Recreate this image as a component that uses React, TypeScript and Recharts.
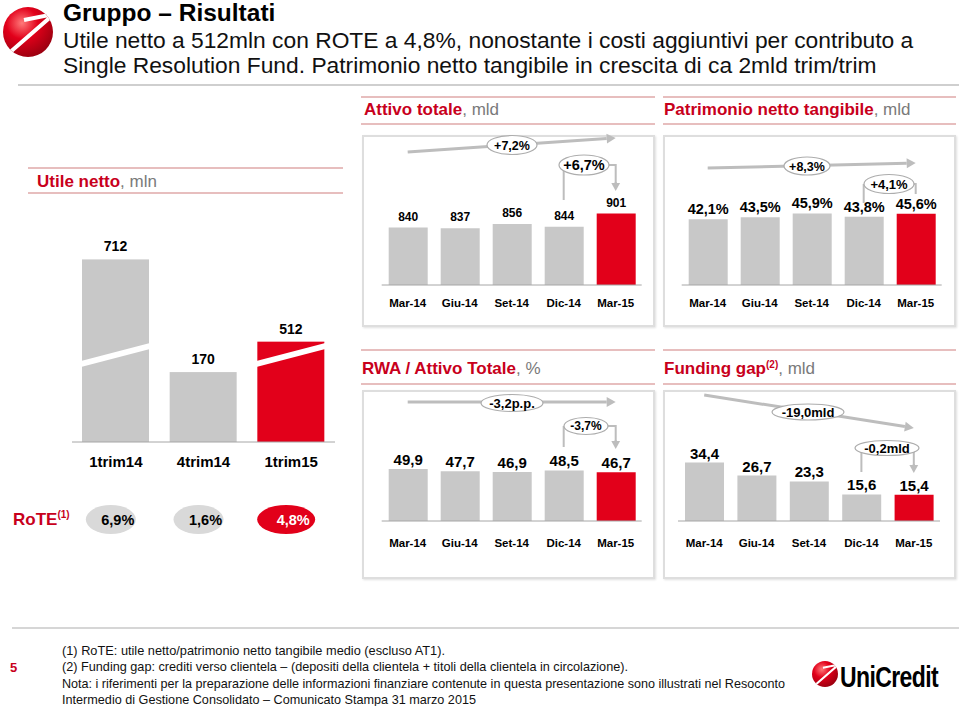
import React from 'react';
import { BarChart, Bar, XAxis, YAxis, Cell, LabelList } from 'recharts';

// quarter-end dates used by the four small charts
const MONTHS = ['Mar-14', 'Giu-14', 'Set-14', 'Dic-14', 'Mar-15'];
const ATTIVO = [840, 837, 856, 844, 901]; // mld
const PATRIMONIO = [42.1, 43.5, 45.9, 43.8, 45.6]; // mld
const RWA_ATTIVO = [49.9, 47.7, 46.9, 48.5, 46.7]; // %
const FUNDING_GAP = [34.4, 26.7, 23.3, 15.6, 15.4]; // mld

const TRIMESTRI = ['1trim14', '4trim14', '1trim15'];
const UTILE = [712, 170, 512]; // mln
const ROTE = [6.9, 1.6, 4.8]; // %

const ATTIVO_DELTA = ['+7,2%', '+6,7%'];
const PATRIMONIO_DELTA = ['+8,3%', '+4,1%'];
const RWA_DELTA = ['-3,2p.p.', '-3,7%'];
const FUNDING_DELTA = ['-19,0mld', '-0,2mld'];

const FOOTNOTES = [
  '(1) RoTE: utile netto/patrimonio netto tangibile medio (escluso AT1).',
  '(2) Funding gap: crediti verso clientela – (depositi della clientela + titoli della clientela in circolazione).',
  'Nota: i riferimenti per la preparazione delle informazioni finanziare contenute in questa presentazione sono illustrati nel Resoconto',
  'Intermedio di Gestione Consolidato – Comunicato Stampa 31 marzo 2015',
];
const FOOTNOTE_WIDTHS = [383, 566, 723, 414];

// broken axis on the utile chart: bars above BREAK_FROM lose BREAK_GAP units
const BREAK_FROM = 300;
const BREAK_GAP = 268;

const GREY = '#c8c8c8';
const RED = '#e2001a';
const HEAD_RED = '#c8001c';
const HEAD_GREY = '#7a7a7a';
const RULE = '#dfa9a9';
const ARROW = '#bdbdbd';
const FONT = '"Liberation Sans", Arial, sans-serif';
const XH = 30;

interface Frame { x: number; y: number; w: number; h: number; L: number; R: number; T: number; B: number }

const marginOf = (f: Frame) => ({
  top: f.T - f.y,
  bottom: f.y + f.h - f.B - XH,
  left: f.L - f.x,
  right: f.x + f.w - f.R,
});

const centers = (f: Frame, n: number) =>
  Array.from({ length: n }, (_, i) => f.L + ((f.R - f.L) * (i + 0.5)) / n);

const it = (v: number) => v.toFixed(1).replace('.', ',');

const F_ATTIVO: Frame = { x: 362, y: 135, w: 293, h: 192, L: 381.7, R: 641.7, T: 200, B: 285 };
const F_PATR: Frame = { x: 663, y: 135, w: 293, h: 192, L: 681.7, R: 941.7, T: 207, B: 285 };
const F_RWA: Frame = { x: 362, y: 390, w: 293, h: 189, L: 381.7, R: 641.7, T: 448, B: 521 };
const F_FUND: Frame = { x: 663, y: 390, w: 293, h: 189, L: 678, R: 940, T: 453, B: 521 };
const F_UTILE: Frame = { x: 20, y: 200, w: 330, h: 280, L: 72, R: 335, T: 259, B: 442 };

function MonthBars({ f, values, domain, labelSize, labelOffset, tickMargin, fmt }: {
  f: Frame; values: number[]; domain: [number, number]; labelSize: number;
  labelOffset: number; tickMargin: number; fmt: (v: number) => string;
}) {
  const data = MONTHS.map((m, i) => ({ cat: m, value: values[i] }));
  return (
    <div style={{ position: 'absolute', left: f.x, top: f.y }}>
      <BarChart width={f.w} height={f.h} data={data} margin={marginOf(f)}>
        <XAxis dataKey="cat" height={XH} interval={0} tickLine={false} tickSize={0} tickMargin={tickMargin}
          axisLine={{ stroke: '#a6a6a6' }}
          tick={{ fontSize: 11.5, fontWeight: 700, fill: '#000', fontFamily: FONT }} />
        <YAxis hide domain={domain} />
        <Bar dataKey="value" barSize={39} isAnimationActive={false}>
          {data.map((d, i) => <Cell key={d.cat} fill={i === data.length - 1 ? RED : GREY} />)}
          <LabelList dataKey="value" position="top" offset={labelOffset}
            formatter={(v: any) => fmt(Number(v))}
            fill="#000" fontSize={labelSize} fontWeight={700} fontFamily={FONT} />
        </Bar>
      </BarChart>
    </div>
  );
}

const BrokenBar = (props: any) => {
  const { x, y, width, height, index, payload } = props;
  const b = y + height;
  const fill = index === UTILE.length - 1 ? RED : GREY;
  return (
    <g>
      <rect x={x} y={y} width={width} height={height} fill={fill} />
      {payload.value > BREAK_FROM && (
        <polygon fill="#fff"
          points={`${x - 1},${b - 81} ${x + width + 1},${b - 99} ${x + width + 1},${b - 93} ${x - 1},${b - 75}`} />
      )}
    </g>
  );
};

function UtileChart() {
  const f = F_UTILE;
  const data = UTILE.map((v, i) => ({
    cat: TRIMESTRI[i],
    value: v,
    plot: v > BREAK_FROM ? v - BREAK_GAP : v,
  }));
  return (
    <div style={{ position: 'absolute', left: f.x, top: f.y }}>
      <BarChart width={f.w} height={f.h} data={data} margin={marginOf(f)}>
        <XAxis dataKey="cat" height={XH} interval={0} tickLine={false} tickSize={0} tickMargin={14}
          axisLine={{ stroke: '#a6a6a6' }}
          tick={{ fontSize: 15, fontWeight: 700, fill: '#000', fontFamily: FONT }} />
        <YAxis hide domain={[0, 445]} />
        <Bar dataKey="plot" barSize={67} isAnimationActive={false} shape={BrokenBar}>
          <LabelList dataKey="value" position="top" offset={8}
            fill="#000" fontSize={14} fontWeight={700} fontFamily={FONT} />
        </Bar>
      </BarChart>
    </div>
  );
}

function Arrow({ x1, y1, x2, y2, w = 3, head = 9 }: { x1: number; y1: number; x2: number; y2: number; w?: number; head?: number }) {
  const a = Math.atan2(y2 - y1, x2 - x1);
  const bx = x2 - head * Math.cos(a);
  const by = y2 - head * Math.sin(a);
  const hx = head * 0.55 * -Math.sin(a);
  const hy = head * 0.55 * Math.cos(a);
  return (
    <g>
      <line x1={x1} y1={y1} x2={bx} y2={by} stroke={ARROW} strokeWidth={w} />
      <polygon points={`${x2},${y2} ${bx + hx},${by + hy} ${bx - hx},${by - hy}`} fill={ARROW} />
    </g>
  );
}

function Bubble({ cx, cy, rx, ry, text, size }: { cx: number; cy: number; rx: number; ry: number; text: string; size: number }) {
  return (
    <g>
      <ellipse cx={cx} cy={cy} rx={rx} ry={ry} fill="#fff" stroke="#adadad" strokeWidth={1.2} />
      <text x={cx} y={cy + size * 0.36} textAnchor="middle" fontSize={size} fontWeight={700} fontFamily={FONT}>{text}</text>
    </g>
  );
}

// long arrow over the whole period + bracket between the last two bars
function Trend({ f, y1, y2, bubble, bracket }: {
  f: Frame; y1: number; y2: number;
  bubble: { cx: number; cy: number; rx: number; ry: number; text: string; size: number };
  bracket: { cx: number; cy: number; rx: number; ry: number; text: string; size: number; l2: number; r2: number; arrow: boolean };
}) {
  const c = centers(f, 5);
  const b = bracket;
  return (
    <g>
      <Arrow x1={c[0]} y1={y1} x2={c[4]} y2={y2} />
      <Bubble {...bubble} />
      <line x1={c[3]} y1={b.cy} x2={c[3]} y2={b.l2} stroke={ARROW} strokeWidth={2} />
      <polyline points={`${b.cx},${b.cy} ${c[4]},${b.cy} ${c[4]},${b.arrow ? b.r2 - 8 : b.r2}`} fill="none" stroke={ARROW} strokeWidth={2} />
      {b.arrow && <Arrow x1={c[4]} y1={b.r2 - 9} x2={c[4]} y2={b.r2} w={2} head={8} />}
      <Bubble cx={b.cx} cy={b.cy} rx={b.rx} ry={b.ry} text={b.text} size={b.size} />
    </g>
  );
}

function Logo({ cx, cy, r, id }: { cx: number; cy: number; r: number; id: string }) {
  const k = r / 25;
  const p = (x: number, y: number) => `${cx + (x - 28) * k},${cy + (y - 32) * k}`;
  return (
    <g>
      <defs>
        <radialGradient id={id} cx="38%" cy="32%" r="70%">
          <stop offset="0" stopColor="#ff7a7a" />
          <stop offset="0.45" stopColor="#e2001a" />
          <stop offset="1" stopColor="#9c0010" />
        </radialGradient>
        <clipPath id={id + 'c'}><circle cx={cx} cy={cy} r={r} /></clipPath>
      </defs>
      <circle cx={cx} cy={cy} r={r} fill={`url(#${id})`} />
      <polyline clipPath={`url(#${id + 'c'})`} points={`${p(24, 20)} ${p(54, 14)} ${p(8, 54)}`}
        fill="none" stroke="#fff" strokeWidth={4 * k} strokeLinejoin="miter" />
    </g>
  );
}

function Header({ x, y, bold, rest, sup, x1, x2, top, bottom }: {
  x: number; y: number; bold: string; rest: string; sup?: string; x1: number; x2: number; top: number; bottom: number;
}) {
  return (
    <g>
      <line x1={x1} y1={top} x2={x2} y2={top} stroke={RULE} strokeWidth={1.5} />
      <line x1={x1} y1={bottom} x2={x2} y2={bottom} stroke={RULE} strokeWidth={1.5} />
      <text x={x} y={y} fontSize={17} fontFamily={FONT}>
        <tspan fill={HEAD_RED} fontWeight={700}>{bold}</tspan>
        {sup && <tspan fill={HEAD_RED} fontWeight={700} fontSize={10} dy={-6}>{sup}</tspan>}
        <tspan fill={HEAD_GREY} dy={sup ? 6 : 0}>{rest}</tspan>
      </text>
    </g>
  );
}

const boxStyle = (f: Frame): React.CSSProperties => ({
  position: 'absolute', left: f.x, top: f.y, width: f.w, height: f.h, boxSizing: 'border-box',
  border: '2px solid #dedede', boxShadow: '1px 1px 2px rgba(0,0,0,0.12)', background: '#fff',
});

export default function App() {
  const cu = centers(F_UTILE, 3);
  return (
    <div style={{ position: 'absolute', left: 0, top: 0, width: 959, height: 706, background: '#fff', overflow: 'hidden', fontFamily: FONT }}>
      <svg width={959} height={706} style={{ position: 'absolute', left: 0, top: 0 }}>
        <Logo cx={28} cy={32} r={25} id="lgTop" />
        <text x={63} y={21} fontSize={24.5} fontWeight={700} fontFamily={FONT}>Gruppo – Risultati</text>
        <text x={63} y={48} fontSize={22.8} fontFamily={FONT} fill="#111">Utile netto a 512mln con ROTE a 4,8%, nonostante i costi aggiuntivi per contributo a</text>
        <text x={63} y={73} fontSize={22.8} fontFamily={FONT} fill="#111">Single Resolution Fund. Patrimonio netto tangibile in crescita di ca 2mld trim/trim</text>
        <line x1={18} y1={85} x2={959} y2={85} stroke="#cfcfcf" strokeWidth={2} />

        <Header x={364} y={115} bold="Attivo totale" rest=", mld" x1={361} x2={655} top={97} bottom={124} />
        <Header x={664} y={115} bold="Patrimonio netto tangibile" rest=", mld" x1={663} x2={956} top={97} bottom={124} />
        <Header x={37} y={187} bold="Utile netto" rest=", mln" x1={28} x2={343} top={168} bottom={193} />
        <Header x={362} y={374} bold="RWA / Attivo Totale" rest=", %" x1={361} x2={655} top={350} bottom={384} />
        <Header x={664} y={374} bold="Funding gap" sup="(2)" rest=", mld" x1={663} x2={956} top={350} bottom={384} />

        <text x={13} y={525} fontSize={17} fontWeight={700} fill={HEAD_RED} fontFamily={FONT}>
          RoTE<tspan fontSize={10} dy={-7}>(1)</tspan>
        </text>
        {ROTE.map((v, i) => {
          const last = i === ROTE.length - 1;
          return (
            <g key={i}>
              <ellipse cx={cu[i] - 5} cy={519.5} rx={last ? 29 : 25} ry={14.5} fill={last ? RED : '#d9d9d9'} />
              <text x={cu[i] + 2} y={524.5} textAnchor="middle" fontSize={14.5} fontWeight={700}
                fill={last ? '#fff' : '#000'} fontFamily={FONT}>{it(v)}%</text>
            </g>
          );
        })}

        <line x1={12} y1={628} x2={959} y2={628} stroke="#d6d6d6" strokeWidth={2} />
        <text x={10} y={672} fontSize={13} fontWeight={700} fill={HEAD_RED} fontFamily={FONT}>5</text>
        {FOOTNOTES.map((t, i) => (
          <text key={i} x={62} y={655 + i * 16.4} fontSize={13} fontFamily={FONT} fill="#111"
            textLength={FOOTNOTE_WIDTHS[i]} lengthAdjust="spacingAndGlyphs">{t}</text>
        ))}
        <Logo cx={825} cy={674} r={13} id="lgBottom" />
        <text transform="translate(840 687) scale(1 1.3)" x={0} y={0} fontSize={23} fontWeight={700}
          fontFamily={FONT} letterSpacing={-0.6}>UniCredit</text>
      </svg>

      <div style={boxStyle(F_ATTIVO)} />
      <div style={boxStyle(F_PATR)} />
      <div style={boxStyle(F_RWA)} />
      <div style={boxStyle(F_FUND)} />

      <UtileChart />
      <MonthBars f={F_ATTIVO} values={ATTIVO} domain={[590, 960]} labelSize={12} labelOffset={7} tickMargin={14} fmt={(v) => String(v)} />
      <MonthBars f={F_PATR} values={PATRIMONIO} domain={[0, 50]} labelSize={14.5} labelOffset={5} tickMargin={14} fmt={(v) => it(v) + '%'} />
      <MonthBars f={F_RWA} values={RWA_ATTIVO} domain={[0, 70]} labelSize={15} labelOffset={4} tickMargin={17.5} fmt={it} />
      <MonthBars f={F_FUND} values={FUNDING_GAP} domain={[0, 40]} labelSize={15} labelOffset={4} tickMargin={17.5} fmt={it} />

      <svg width={959} height={706} style={{ position: 'absolute', left: 0, top: 0, pointerEvents: 'none' }}>
        <Trend f={F_ATTIVO} y1={152} y2={138}
          bubble={{ cx: 512, cy: 145, rx: 25, ry: 9.5, text: ATTIVO_DELTA[0], size: 12.5 }}
          bracket={{ cx: 584, cy: 165, rx: 25, ry: 10, text: ATTIVO_DELTA[1], size: 14.5, l2: 200, r2: 191, arrow: true }} />
        <Trend f={F_PATR} y1={168} y2={163}
          bubble={{ cx: 807, cy: 166, rx: 23, ry: 9, text: PATRIMONIO_DELTA[0], size: 12.5 }}
          bracket={{ cx: 889, cy: 184, rx: 25, ry: 9.5, text: PATRIMONIO_DELTA[1], size: 13, l2: 203, r2: 194, arrow: false }} />
        <Trend f={F_RWA} y1={402} y2={402}
          bubble={{ cx: 512, cy: 403, rx: 31, ry: 8.5, text: RWA_DELTA[0], size: 13 }}
          bracket={{ cx: 586, cy: 426, rx: 22, ry: 8.5, text: RWA_DELTA[1], size: 12, l2: 447, r2: 449, arrow: true }} />
        <Trend f={F_FUND} y1={395} y2={428}
          bubble={{ cx: 808, cy: 412, rx: 36, ry: 8, text: FUNDING_DELTA[0], size: 13 }}
          bracket={{ cx: 887, cy: 448, rx: 32, ry: 7.5, text: FUNDING_DELTA[1], size: 13, l2: 472, r2: 473, arrow: true }} />
      </svg>
    </div>
  );
}
